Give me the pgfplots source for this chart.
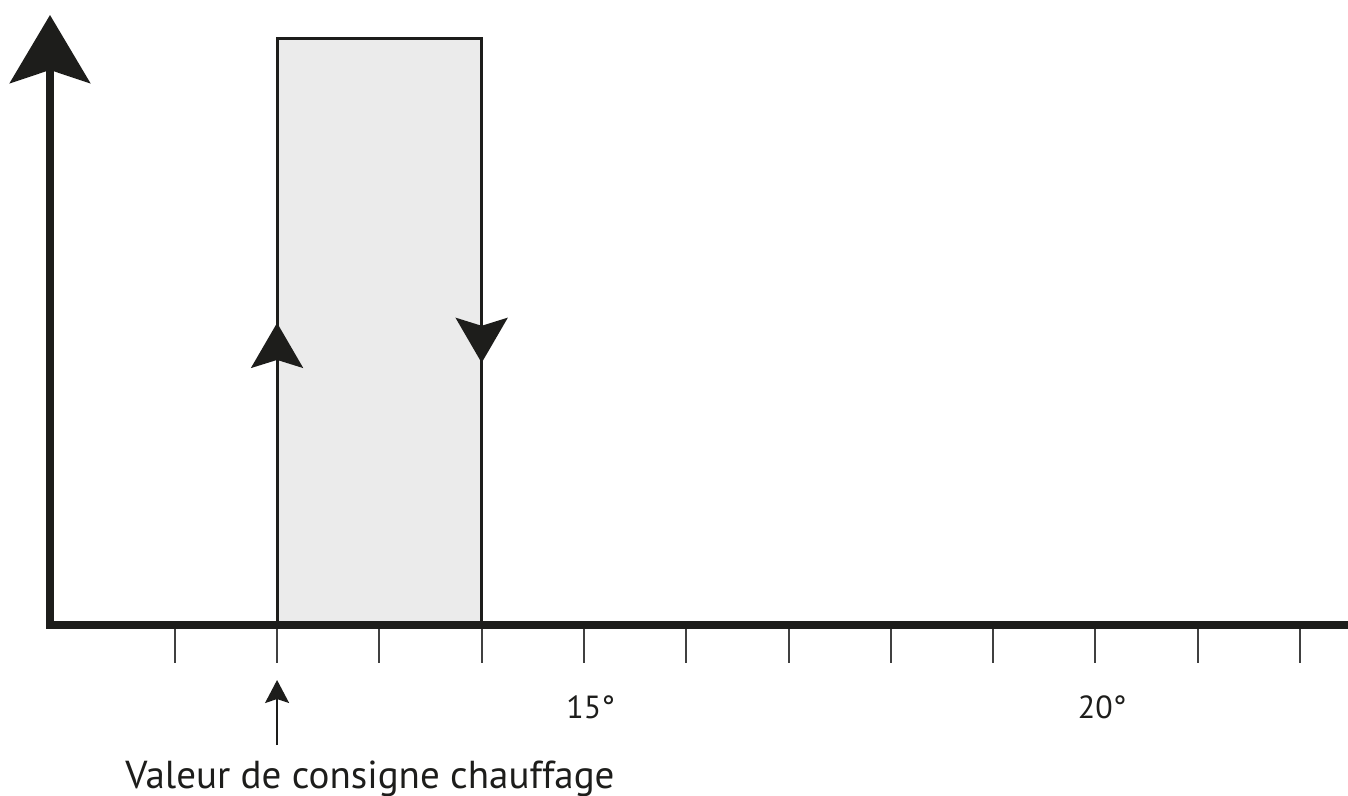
\documentclass[border=0pt]{standalone}
\usepackage{fontspec}
\setmainfont{PT Sans}
\usepackage{pgfplots}
\pgfplotsset{compat=1.18}
\usetikzlibrary{arrows.meta}
\definecolor{rectfill}{HTML}{EBEBEB}
\definecolor{ink}{HTML}{1D1D1B}
\begin{document}
\begin{tikzpicture}
\begin{axis}[
  at={(0,0)}, anchor=south west,
  scale only axis, width=649pt, height=305pt,
  xmin=9.78, xmax=22.47, ymin=0, ymax=1.04,
  axis x line*=bottom, axis y line*=left,
  axis on top=true,
  clip=false,
  x axis line style={line width=4pt, draw=ink, line cap=rect},
  y axis line style={line width=4pt, draw=ink, -{Stealth[length=34pt,width=40pt,inset=6.5pt]}},
  xtick={11,12,13,14,15,16,17,18,19,20,21,22},
  xticklabels={,,,,15\rlap{°},,,,,20\rlap{°},,},
  ytick=\empty,
  tick align=outside,
  major tick length=19pt,
  xtick style={line width=1pt, draw=black!75},
  xticklabel style={anchor=north, yshift=-13pt, font=\fontsize{16}{19}\selectfont, text=ink},
  /pgf/number format/assume math mode=true,
]
\addplot[draw=ink, line width=1.5pt, fill=rectfill] coordinates {(12,0) (12,1) (14,1) (14,0) (12,0)};
\addplot[draw=ink, line width=1.5pt, -{Stealth[length=22.5pt,width=26pt,inset=4pt]}] coordinates {(12,0) (12,0.515)};
\addplot[draw=ink, line width=1.5pt, -{Stealth[length=22.5pt,width=26pt,inset=4pt]}] coordinates {(14,1) (14,0.447)};
\addplot[draw=ink, line width=1pt, -{Stealth[length=11.5pt,width=12pt,inset=2pt]}] coordinates {(12,-0.2046) (12,-0.0938)};
\node[anchor=base, font=\fontsize{19.5}{23}\selectfont, text=ink, inner sep=0pt] at (axis cs:12.908,-0.278) {Valeur de consigne chauffage};
\end{axis}
\pgfresetboundingbox
\path[use as bounding box] (-25pt,-85.5pt) rectangle (649pt,312.5pt);
\end{tikzpicture}
\end{document}
